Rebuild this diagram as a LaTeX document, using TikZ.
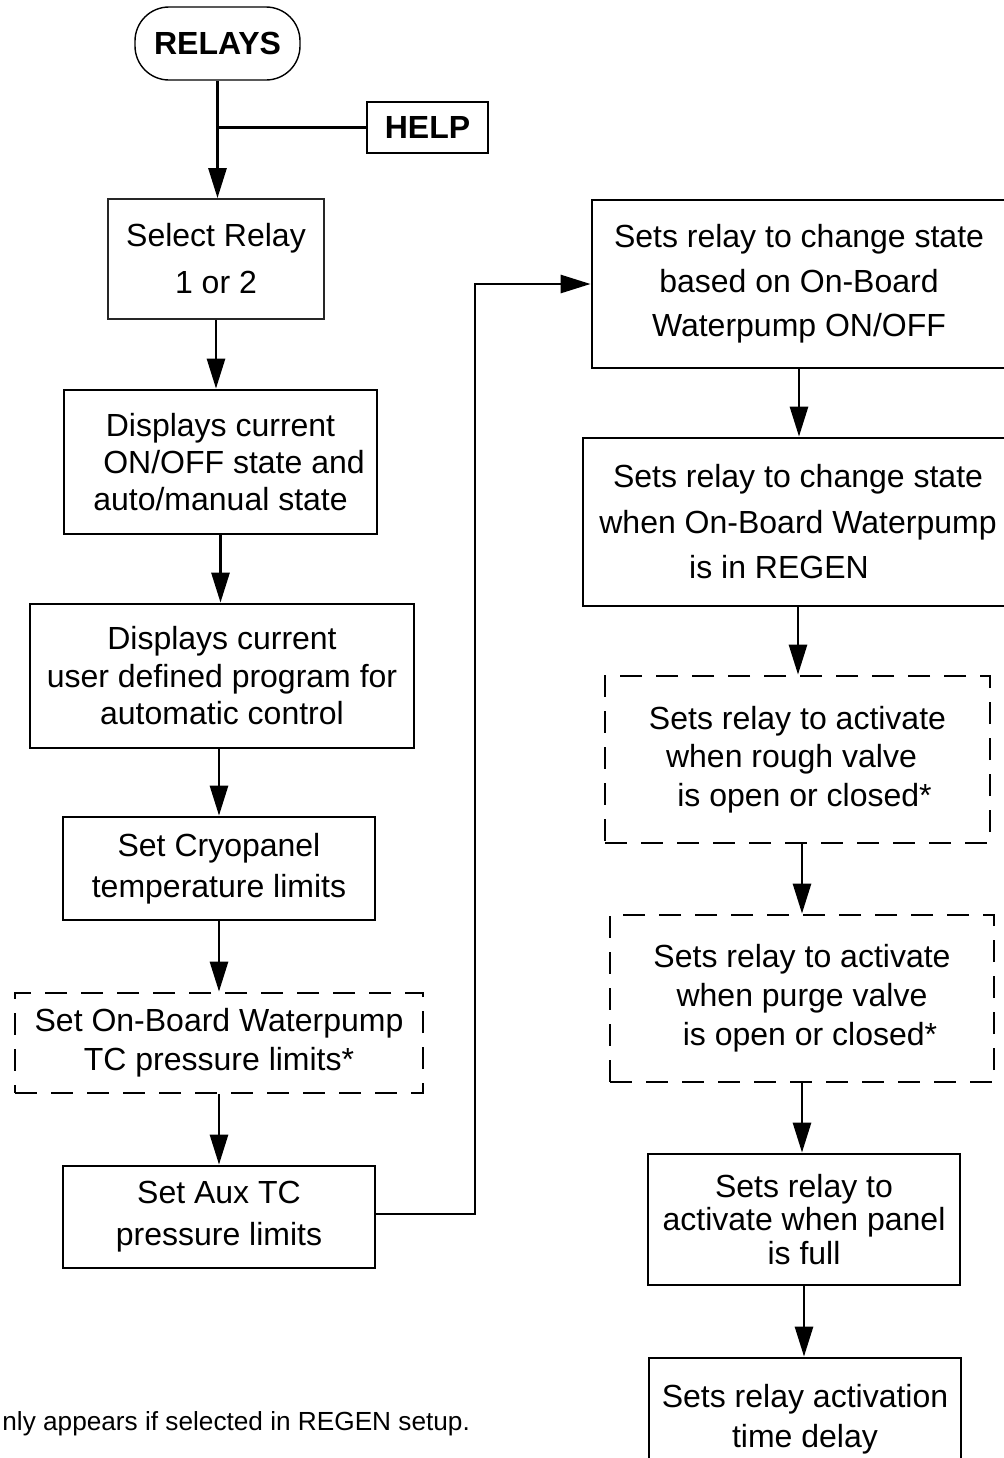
\documentclass[tikz,border=0pt]{standalone}
\usepackage{fontspec}
\setmainfont{Liberation Sans}
\usetikzlibrary{arrows.meta}
\begin{document}
\begin{tikzpicture}[x=0.5pt,y=-0.5pt,
  box/.style={draw, line width=1.4pt, inner sep=0pt, align=center, font=\fontsize{16}{#1}\selectfont},
  box/.default=19pt,
  dbox/.style={box=#1, dash pattern=on 11pt off 7pt},
  dbox/.default=19.5pt,
  conn/.style={line width=1.4pt},
  arr/.style={conn, -{Triangle[length=15pt,width=9pt]}},
]
\useasboundingbox (0,0) rectangle (1003,1458);

% left column
\node[draw, line width=0.7pt, rounded corners=17pt, minimum width=82.5pt, minimum height=36.5pt,
      inner sep=0pt, font=\bfseries\fontsize{16}{19}\selectfont] (relays) at (217.5,43.5) {RELAYS};
\node[draw, line width=1.4pt, minimum width=60.5pt, minimum height=25.5pt, inner sep=0pt,
      font=\bfseries\fontsize{16}{19}\selectfont] (help) at (427.5,127.5) {HELP};
\node[box=23.5pt, line width=0.9pt, draw=black!85, minimum width=108pt, minimum height=60pt] (sel) at (216,259) {Select Relay\\1 or 2};
\node[box=18.5pt, minimum width=156.5pt, minimum height=72pt] (disp) at (220.5,462) {Displays current\\\hspace*{13.5pt}ON/OFF state and\\auto/manual state};
\node[box=18.75pt, minimum width=192pt, minimum height=72pt] (prog) at (222,676) {Displays current\\user defined program for\\automatic control};
\node[box=20.5pt, minimum width=156pt, minimum height=51.5pt] (cryo) at (219,868.5) {Set Cryopanel\\temperature limits};
\node[dbox=19.5pt, minimum width=204pt, minimum height=50pt] (wp) at (219,1043) {Set On-Board Waterpump\\TC pressure limits*};
\node[box=21pt, minimum width=156pt, minimum height=51pt] (aux) at (219,1217) {Set Aux TC\\pressure limits};

% right column
\node[box=22.25pt, minimum width=207pt, minimum height=84pt] (r1) at (799,284) {Sets relay to change state\\based on On-Board\\Waterpump ON/OFF};
\node[box=22.75pt, minimum width=215pt, minimum height=84pt] (r2) at (798,522) {Sets relay to change state\\when On-Board Waterpump\\\hspace*{-19pt}is in REGEN};
\node[dbox=19.25pt, minimum width=192.5pt, minimum height=83.5pt] (r3) at (797.5,759.5) {Sets relay to activate\\\hspace*{-6pt}when rough valve\\\hspace*{7pt}is open or closed*};
\node[dbox=19.5pt, minimum width=192pt, minimum height=83.5pt] (r4) at (802,998.5) {Sets relay to activate\\when purge valve\\\hspace*{8pt}is open or closed*};
\node[box=16.75pt, minimum width=156pt, minimum height=65.5pt] (r5) at (804,1219.5) {Sets relay to\\activate when panel\\is full};
\node[box=20pt, minimum width=156pt, minimum height=61pt] (r6) at (805,1419) {Sets relay activation\\time delay};

% footnote
\node[anchor=base west, inner sep=0pt, font=\fontsize{13.1}{16}\selectfont] (note) at (2,1430) {nly appears if selected in REGEN setup.};

% connectors
\draw[arr] (relays.south) -- (relays.south |- sel.north);
\draw[conn] (help.west) -- (relays.south |- help.west);
\draw[arr] (sel.south) -- (sel.south |- disp.north);
\draw[arr] (disp.south) -- (disp.south |- prog.north);
\draw[arr] (cryo.north |- prog.south) -- (cryo.north);
\draw[arr] (cryo.south) -- (cryo.south |- wp.north);
\draw[arr] (wp.south) -- (wp.south |- aux.north);
\coordinate (c1) at (475,1214);
\coordinate (c2) at (475,284);
\draw[arr] (aux.east |- c1) -- (c1) -- (c2) -- (c2 -| r1.west);
\draw[arr] (r1.south) -- (r1.south |- r2.north);
\draw[arr] (r2.south) -- (r2.south |- r3.north);
\draw[arr] (r4.north |- r3.south) -- (r4.north);
\draw[arr] (r4.south) -- (r4.south |- r5.north);
\draw[arr] (r5.south) -- (r5.south |- r6.north);
\end{tikzpicture}
\end{document}
